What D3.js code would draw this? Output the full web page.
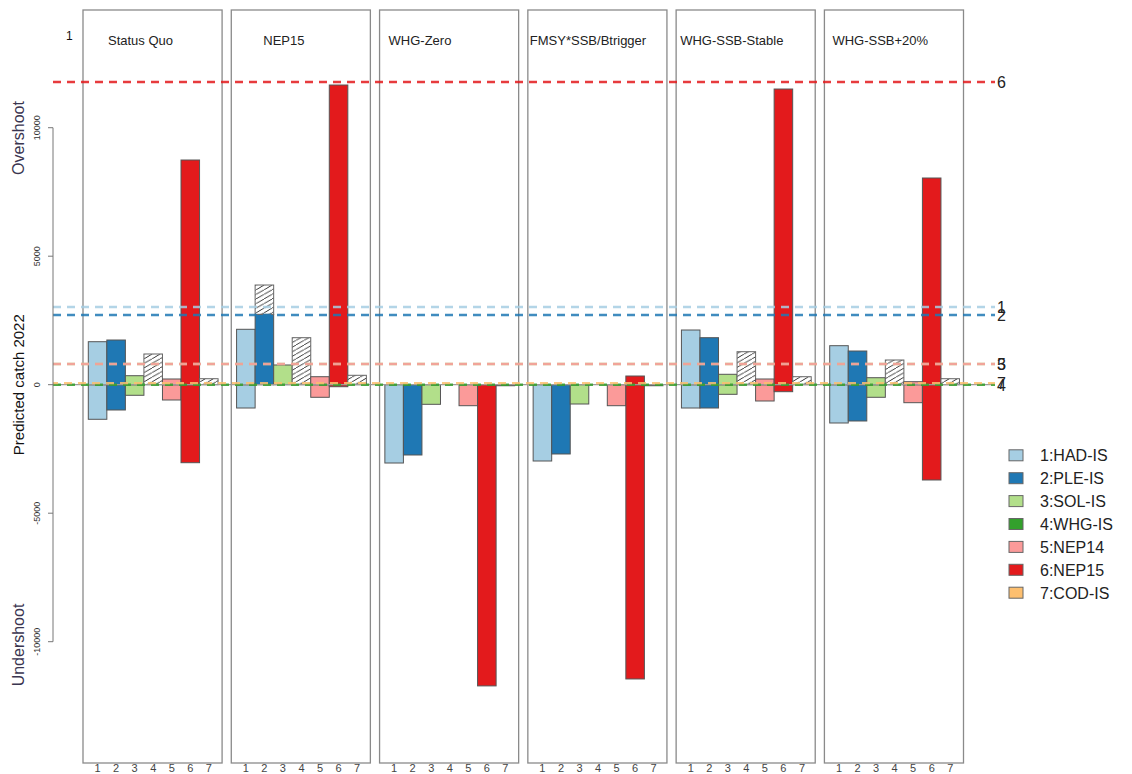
<!DOCTYPE html>
<html><head><meta charset="utf-8">
<script src="https://cdn.jsdelivr.net/npm/d3@7"></script>
<style>body{margin:0;background:#fff}svg{display:block}text{font-family:"Liberation Sans",Arial,sans-serif}</style>
</head><body><svg id="c" width="1132" height="774"></svg>
<script>
// ---- data ----
const panels = ["Status Quo","NEP15","WHG-Zero","FMSY*SSB/Btrigger","WHG-SSB-Stable","WHG-SSB+20%"];
const stocks = ["1","2","3","4","5","6","7"];
const stockNames = ["1:HAD-IS","2:PLE-IS","3:SOL-IS","4:WHG-IS","5:NEP14","6:NEP15","7:COD-IS"];
const colors = ["#A6CEE3","#1F78B4","#B2DF8A","#33A02C","#FB9A99","#E31A1C","#FDBF6F"];
// overshoot (positive part), undershoot (negative part), hatched top
const over = [
  [1673,1739,350,0,222,8743,0],
  [2156,2739,767,0,311,11661,0],
  [0,0,0,0,0,0,0],
  [0,0,0,0,0,338,0],
  [2128,1829,405,0,222,11505,0],
  [1518,1311,272,0,117,8043,0]
];
const under = [
  [-1346,-984,-412,0,-595,-3035,0],
  [-907,0,0,0,-490,-78,0],
  [-3047,-2735,-763,0,-817,-11720,-40],
  [-2969,-2696,-751,0,-817,-11450,-40],
  [-907,-907,-374,0,-634,-272,0],
  [-1490,-1412,-490,0,-700,-3708,0]
];
const hatch = [
  [0,0,0,1195,0,0,233],
  [0,3879,0,1829,0,0,366],
  [0,0,0,0,0,0,0],
  [0,0,0,0,0,0,0],
  [0,0,0,1284,0,0,311],
  [0,0,0,961,0,0,233]
];
const refValues = [3023,2712,805,0,805,11778,60];
const yTicks = [10000,5000,0,-5000,-10000];
const titleOffsets = [25,32,9,2,4,8];

// ---- layout ----
const svg = d3.select("#c");
const yTop = 10, yBottom = 763;
const y = d3.scaleLinear().domain([-14720,14580]).range([yBottom,yTop]);
const panelX = d3.scaleBand().domain(d3.range(panels.length)).range([83,963.5]).paddingInner(0.062).paddingOuter(0);
const pw = panelX.bandwidth();

const defs = svg.append("defs");
const pat = defs.append("pattern").attr("id","hatch").attr("patternUnits","userSpaceOnUse")
  .attr("width",8).attr("height",4.6);
pat.append("rect").attr("width",8).attr("height",4.6).attr("fill","#fff");
pat.append("line").attr("x1",-0.5).attr("y1",4.9).attr("x2",8.5).attr("y2",-0.3)
  .attr("stroke","#222").attr("stroke-width",0.9);

panels.forEach((p,i)=>{
  const g = svg.append("g");
  const x0 = panelX(i);
  const xb = d3.scaleBand().domain(stocks).range([x0+5.3, x0+pw-4]).padding(0);
  g.append("rect").attr("x",x0).attr("y",yTop).attr("width",pw).attr("height",yBottom-yTop)
    .attr("fill","none").attr("stroke","#8a8a8a").attr("stroke-width",1.3);
  g.append("text").attr("x",x0+titleOffsets[i]).attr("y",45).attr("font-size",13).attr("fill","#222").text(p);
  stocks.forEach((s,j)=>{
    const bx = xb(s), bw = xb.bandwidth();
    if (under[i][j] < 0) {
      g.append("rect").attr("x",bx).attr("y",y(0)).attr("width",bw).attr("height",y(under[i][j])-y(0))
        .attr("fill",colors[j]).attr("stroke","#555").attr("stroke-width",1);
    }
    if (over[i][j] > 0) {
      g.append("rect").attr("x",bx).attr("y",y(over[i][j])).attr("width",bw).attr("height",y(0)-y(over[i][j]))
        .attr("fill",colors[j]).attr("stroke","#555").attr("stroke-width",1);
    }
    if (hatch[i][j] > Math.max(0,over[i][j])) {
      const b = Math.max(0,over[i][j]);
      g.append("rect").attr("x",bx).attr("y",y(hatch[i][j])).attr("width",bw).attr("height",y(b)-y(hatch[i][j]))
        .attr("fill","url(#hatch)").attr("stroke","#666").attr("stroke-width",1);
    }
  });
  g.selectAll(".xt").data(stocks).enter().append("text")
    .attr("x",d=>xb(d)+xb.bandwidth()/2).attr("y",772).attr("text-anchor","middle")
    .attr("font-size",11).attr("fill","#444").text(d=>d);
});

// zero line
svg.append("line").attr("x1",53).attr("x2",995).attr("y1",y(0)).attr("y2",y(0))
  .attr("stroke","#999").attr("stroke-width",1.2);

// reference dashed lines and labels
refValues.forEach((v,k)=>{
  svg.append("line").attr("x1",53).attr("x2",995).attr("y1",y(v)).attr("y2",y(v))
    .attr("stroke",colors[k]).attr("stroke-width",2.4).attr("stroke-dasharray","8,6")
    .attr("stroke-dashoffset",k===6?3:0).attr("opacity",0.85);
  svg.append("text").attr("x",997).attr("y",y(v)+6).attr("font-size",16).attr("fill","#222").text(stocks[k]);
});

// y axis
const ax = svg.append("g");
ax.append("line").attr("x1",53).attr("x2",53).attr("y1",y(10000)).attr("y2",y(-10000)).attr("stroke","#777");
yTicks.forEach(t=>{
  ax.append("line").attr("x1",48).attr("x2",53).attr("y1",y(t)).attr("y2",y(t)).attr("stroke","#777");
  ax.append("text").attr("transform",`translate(40,${y(t)}) rotate(-90)`).attr("text-anchor","middle")
    .attr("font-size",9).attr("fill","#333").text(t);
});
svg.append("text").attr("transform",`translate(24,${y(0)}) rotate(-90)`).attr("text-anchor","middle")
  .attr("font-size",15).attr("fill","#111").text("Predicted catch 2022");
svg.append("text").attr("transform",`translate(24,138) rotate(-90)`).attr("text-anchor","middle")
  .attr("font-size",16).attr("fill","#3a3550").text("Overshoot");
svg.append("text").attr("transform",`translate(24,645) rotate(-90)`).attr("text-anchor","middle")
  .attr("font-size",16).attr("fill","#3a3550").text("Undershoot");
svg.append("text").attr("x",66).attr("y",40).attr("font-size",12).attr("fill","#111").text("1");

// legend
const lg = svg.append("g");
stockNames.forEach((n,k)=>{
  const cy = 455.3 + k*22.9;
  lg.append("rect").attr("x",1009).attr("y",cy-5.5).attr("width",14).attr("height",11)
    .attr("fill",colors[k]).attr("stroke","#666").attr("stroke-width",1);
  lg.append("text").attr("x",1040).attr("y",cy+6).attr("font-size",16).attr("fill","#222").text(n);
});
</script></body></html>
